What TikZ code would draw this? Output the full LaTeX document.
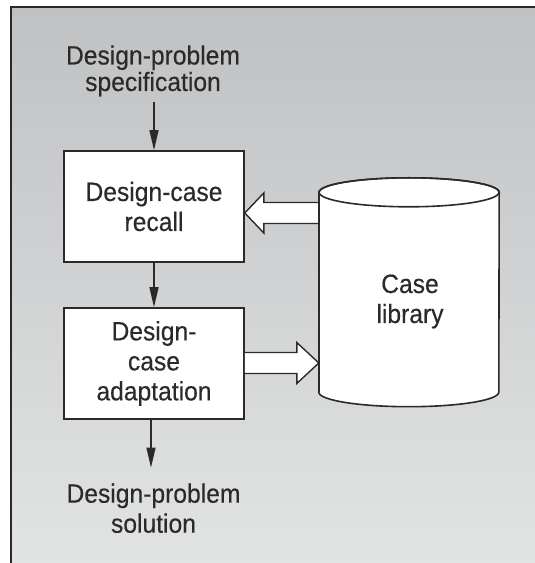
\documentclass[tikz,border=0pt]{standalone}
\usepackage{fontspec}
\setmainfont{Liberation Sans}[FakeStretch=0.93,FakeBold=0.3]
\usetikzlibrary{arrows.meta,calc}
\definecolor{ink}{HTML}{2A2A2A}
\definecolor{bgtop}{HTML}{C0C1C3}
\definecolor{bgbot}{HTML}{E2E3E3}
\begin{document}
\begin{tikzpicture}[x=1pt,y=1pt,
  txt/.style={align=center,inner sep=0pt,text=ink,font=\fontsize{26.5}{30}\selectfont},
  stepbox/.style={txt,draw=ink,line width=1.6pt,fill=white,
    minimum width=180pt,minimum height=111pt},
  flow/.style={draw=ink,line width=1.4pt,-{Triangle[length=20pt,width=9pt]}},
  hollow/.style={draw=ink,line width=1.4pt,fill=white,line join=miter}]
  \useasboundingbox (0,0) rectangle (535,563);
  \fill[white] (0,0) rectangle (535,563);
  % shaded panel with its frame on the left and top
  \shade[top color=bgtop,bottom color=bgbot] (10.5,0) rectangle (535,555.5);
  \draw[ink,line width=2pt] (10.5,0) -- (10.5,555.5) -- (535,555.5);

  % process boxes
  \node[stepbox] (recall) at (154,356.5) {Design-case\\recall};
  \node[stepbox] (adapt) at (154,199.5) {Design-\\case\\adaptation};

  % input and output labels (base = baseline of the last line)
  \node[txt,anchor=base,font=\fontsize{26.5}{26.5}\selectfont] (spec) at (153,472) {Design-problem\\specification};
  \node[txt,anchor=base] (sol) at (153.5,30.3) {Design-problem\\solution};

  % case library cylinder
  \node[minimum width=180pt,minimum height=199.5pt,inner sep=0pt] (cyl) at (409,270.75) {};
  \draw[ink,line width=1.6pt,fill=white]
    (cyl.north west) -- (cyl.south west)
    arc[start angle=180,end angle=360,x radius=90,y radius=14.5]
    -- (cyl.north east)
    arc[start angle=0,end angle=180,x radius=90,y radius=14.5] -- cycle;
  \draw[ink,line width=1.6pt] (cyl.north) ellipse[x radius=90,y radius=14.5];
  \node[txt,anchor=base] (lib) at (410,240) {Case\\library};

  % flow arrows
  \draw[flow,shorten <=5pt] (recall.north |- spec.south) -- (recall.north);
  \draw[flow] (recall.south) -- (adapt.north);
  \coordinate (out) at ([xshift=-3pt]adapt.south);
  \draw[flow,shorten >=15.7pt] (out) -- (out |- sol.north);

  % hollow arrow: library -> recall
  \coordinate (lt) at ([yshift=-6.5pt]recall.east);
  \coordinate (lb) at (cyl.west |- lt);
  \draw[hollow] ([yshift=10.5pt]lb) -- ([shift={(19pt,10.5pt)}]lt)
    -- ([shift={(19pt,20pt)}]lt) -- (lt) -- ([shift={(19pt,-20pt)}]lt)
    -- ([shift={(19pt,-10.5pt)}]lt) -- ([yshift=-10.5pt]lb);

  % hollow arrow: adaptation -> library
  \coordinate (rb) at ([yshift=0.5pt]adapt.east);
  \coordinate (rt) at (cyl.west |- rb);
  \draw[hollow] ([yshift=10.5pt]rb) -- ([shift={(-22pt,10.5pt)}]rt)
    -- ([shift={(-22pt,20.5pt)}]rt) -- (rt) -- ([shift={(-22pt,-20.5pt)}]rt)
    -- ([shift={(-22pt,-10.5pt)}]rt) -- ([yshift=-10.5pt]rb);
  % redraw the cylinder side over the arrow ends
  \draw[ink,line width=1.6pt] (cyl.north west) -- (cyl.south west);
\end{tikzpicture}
\end{document}
